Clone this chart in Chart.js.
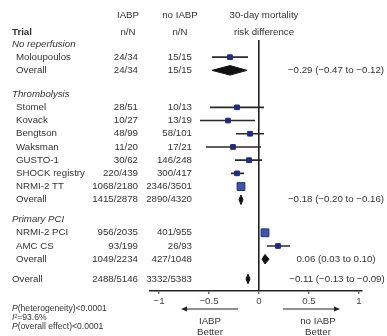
<!DOCTYPE html>
<html>
<head>
<meta charset="utf-8">
<script src="https://cdn.jsdelivr.net/npm/chart.js@4.4.0/dist/chart.umd.min.js"></script>
<style>
  html, body { margin: 0; padding: 0; background: #fff; }
  #wrap { width: 387px; height: 336px; }
</style>
</head>
<body>
<div id="wrap"><canvas id="forestChart"></canvas></div>
<script>
// data
const groupNames = ['No reperfusion', 'Thrombolysis', 'Primary PCI'];
const trialNames = ['Moloupoulos', 'Stomel', 'Kovack', 'Bengtson', 'Waksman', 'GUSTO-1',
  'SHOCK registry', 'NRMI-2 TT', 'NRMI-2 PCI', 'AMC CS'];
const trialGroup = [0, 1, 1, 1, 1, 1, 1, 1, 2, 2];
const iabpEvents = ['24/34', '28/51', '10/27', '48/99', '11/20', '30/62', '220/439', '1068/2180', '956/2035', '93/199'];
const noIabpEvents = ['15/15', '10/13', '13/19', '58/101', '17/21', '146/248', '300/417', '2346/3501', '401/955', '26/93'];
const riskDiff = [-0.29, -0.22, -0.31, -0.09, -0.26, -0.10, -0.22, -0.18, 0.06, 0.19];
const ciLow = [-0.47, -0.49, -0.59, -0.23, -0.53, -0.24, -0.28, -0.21, 0.02, 0.08];
const ciHigh = [-0.11, 0.05, -0.04, 0.05, 0.02, 0.03, -0.15, -0.15, 0.10, 0.31];

const groupIabp = ['24/34', '1415/2878', '1049/2234'];
const groupNoIabp = ['15/15', '2890/4320', '427/1048'];
const groupRd = [-0.29, -0.18, 0.06];
const groupLow = [-0.47, -0.20, 0.03];
const groupHigh = [-0.12, -0.16, 0.10];

const totalIabp = '2488/5146';
const totalNoIabp = '3332/5383';
const totalRd = -0.11;
const totalLow = -0.13;
const totalHigh = -0.09;

const xTicks = [-1, -0.5, 0, 0.5, 1];

// layout
const TEXT = '#333';
const FONT = 'Liberation Sans, Arial, sans-serif';
const FS = 9.7;
const GAP = [0, 0.8, 0.5];
const TOTAL_GAP = 0.5;
const DIAMOND_H = 0.36;

// row positions (in row units, top down)
const rows = [];
const trialY = [];
const groupY = [];
let pos = 0;
groupNames.forEach((g, gi) => {
  pos += GAP[gi];
  rows.push({ kind: 'group', gi: gi, y: pos }); pos++;
  trialNames.forEach((t, ti) => {
    if (trialGroup[ti] === gi) {
      trialY[ti] = pos;
      rows.push({ kind: 'trial', ti: ti, y: pos }); pos++;
    }
  });
  groupY[gi] = pos;
  rows.push({ kind: 'sub', gi: gi, y: pos }); pos++;
});
const totalY = pos - 1 + 1 + TOTAL_GAP - 1 + 1;
rows.push({ kind: 'total', y: totalY });

const fmt = v => (v < 0 ? '\u2212' : '') + Math.abs(v).toFixed(2);
const ciText = (e, l, h) => fmt(e) + ' (' + fmt(l) + ' to ' + fmt(h) + ')';

const totalN = trialNames.map((t, i) => +iabpEvents[i].split('/')[1] + +noIabpEvents[i].split('/')[1]);

// CI segments, separated by gaps
const ciData = [];
trialNames.forEach((t, i) => {
  ciData.push({ x: ciLow[i], y: trialY[i] }, { x: ciHigh[i], y: trialY[i] }, { x: null, y: null });
});

function diamond(est, lo, hi, yy) {
  return [
    { x: lo, y: yy }, { x: est, y: yy - DIAMOND_H }, { x: hi, y: yy },
    { x: est, y: yy + DIAMOND_H }, { x: lo, y: yy }
  ];
}
const diamondSets = groupRd.map((e, gi) => diamond(e, groupLow[gi], groupHigh[gi], groupY[gi]));
diamondSets.push(diamond(totalRd, totalLow, totalHigh, totalY));

const datasets = [
  {
    type: 'scatter',
    data: riskDiff.map((v, i) => ({ x: v, y: trialY[i] })),
    pointStyle: 'rect',
    pointRadius: c => totalN[c.dataIndex] > 2000 ? 5.5 : 3.3,
    backgroundColor: c => totalN[c.dataIndex] > 2000 ? '#3d57a8' : '#1f2a80',
    borderColor: '#1f2a80',
    borderWidth: 1
  },
  {
    type: 'line',
    data: ciData,
    borderColor: '#2a2a2a',
    borderWidth: 1.6,
    pointRadius: 0,
    spanGaps: false
  }
];
diamondSets.forEach(d => {
  datasets.push({
    type: 'line',
    data: d,
    fill: 'shape',
    backgroundColor: '#111',
    borderColor: '#111',
    borderWidth: 1,
    pointRadius: 0
  });
});

const textPlugin = {
  id: 'forestText',
  afterDraw(chart) {
    const { ctx, chartArea, scales: { x, y } } = chart;
    const yp = v => y.getPixelForValue(v);
    const xp = v => x.getPixelForValue(v);
    ctx.save();
    ctx.fillStyle = TEXT;
    ctx.textBaseline = 'middle';
    const put = (s, px, py, align, style) => {
      ctx.font = (style || '') + ' ' + FS + 'px ' + FONT;
      ctx.textAlign = align || 'left';
      ctx.fillText(s, px, py);
    };

    // headers
    const h1 = yp(-2.2), h2 = yp(-0.9);
    put('IABP', 128, h1, 'center');
    put('no IABP', 180, h1, 'center');
    put('30-day mortality', 264, h1, 'center');
    put('Trial', 12, h2, 'left', 'bold');
    put('n/N', 128, h2, 'center');
    put('n/N', 180, h2, 'center');
    put('risk difference', 264, h2, 'center');

    rows.forEach(r => {
      const py = yp(r.y);
      if (r.kind === 'group') {
        put(groupNames[r.gi], 12, py, 'left', 'italic');
      } else if (r.kind === 'trial') {
        put(trialNames[r.ti], 16, py);
        put(iabpEvents[r.ti], 138, py, 'right');
        put(noIabpEvents[r.ti], 192, py, 'right');
      } else if (r.kind === 'sub') {
        put('Overall', 16, py);
        put(groupIabp[r.gi], 138, py, 'right');
        put(groupNoIabp[r.gi], 192, py, 'right');
        put(ciText(groupRd[r.gi], groupLow[r.gi], groupHigh[r.gi]), 336, py, 'center');
      } else {
        put('Overall', 12, py);
        put(totalIabp, 138, py, 'right');
        put(totalNoIabp, 192, py, 'right');
        put(ciText(totalRd, totalLow, totalHigh), 337, py, 'center');
      }
    });

    // direction arrows
    const ay = chartArea.bottom + 18;
    ctx.strokeStyle = '#222';
    ctx.lineWidth = 1.2;
    const arrow = (from, to) => {
      const a = xp(from), b = xp(to);
      const dir = Math.sign(b - a);
      ctx.beginPath(); ctx.moveTo(a, ay); ctx.lineTo(b - dir * 4, ay); ctx.stroke();
      ctx.beginPath(); ctx.moveTo(b, ay); ctx.lineTo(b - dir * 6, ay - 2.6); ctx.lineTo(b - dir * 6, ay + 2.6);
      ctx.closePath(); ctx.fillStyle = '#222'; ctx.fill();
    };
    arrow(-0.21, -0.78);
    arrow(0.24, 0.81);
    ctx.fillStyle = TEXT;
    put('IABP', xp(-0.49), ay + 12, 'center');
    put('Better', xp(-0.49), ay + 23, 'center');
    put('no IABP', xp(0.59), ay + 12, 'center');
    put('Better', xp(0.59), ay + 23, 'center');

    // footnotes
    const fs = 8.6;
    const seg = (parts, px, py) => {
      let cx = px;
      ctx.textAlign = 'left';
      parts.forEach(([s, st]) => {
        ctx.font = (st || '') + ' ' + fs + 'px ' + FONT;
        ctx.fillText(s, cx, py);
        cx += ctx.measureText(s).width;
      });
    };
    seg([['P', 'italic'], ['(heterogeneity)<0.0001']], 12, ay);
    seg([['I', 'italic'], ['\u00b2=93.6%']], 12, ay + 9);
    seg([['P', 'italic'], ['(overall effect)<0.0001']], 12, ay + 18);
    ctx.restore();
  }
};

Chart.defaults.font.family = FONT;
Chart.defaults.font.size = FS;
Chart.defaults.color = TEXT;

const ctx = document.getElementById('forestChart').getContext('2d');
const forestChart = new Chart(ctx, {
  type: 'scatter',
  data: { datasets: datasets },
  options: {
    responsive: true,
    maintainAspectRatio: false,
    animation: false,
    events: [],
    layout: { padding: { left: 150, right: 25, top: 40, bottom: 0 } },
    plugins: { legend: { display: false }, tooltip: { enabled: false } },
    scales: {
      x: {
        type: 'linear',
        min: -1.09,
        max: 1.03,
        afterBuildTicks: s => { s.ticks = xTicks.map(v => ({ value: v })); },
        afterFit: s => { s.height = 45; },
        border: { display: true, color: '#222', width: 1.6 },
        grid: {
          drawOnChartArea: true,
          color: c => (c.tick && c.tick.value === 0) ? '#222' : 'rgba(0,0,0,0)',
          lineWidth: 1.6,
          tickColor: '#333',
          tickLength: 3,
          tickWidth: 1
        },
        ticks: {
          padding: 2,
          color: '#444',
          maxRotation: 0,
          callback: v => v < 0 ? '\u2212' + Math.abs(v) : String(v)
        }
      },
      y: {
        type: 'linear',
        display: false,
        reverse: true,
        min: -0.3,
        max: 18.71
      }
    }
  },
  plugins: [textPlugin]
});
</script>
</body>
</html>
